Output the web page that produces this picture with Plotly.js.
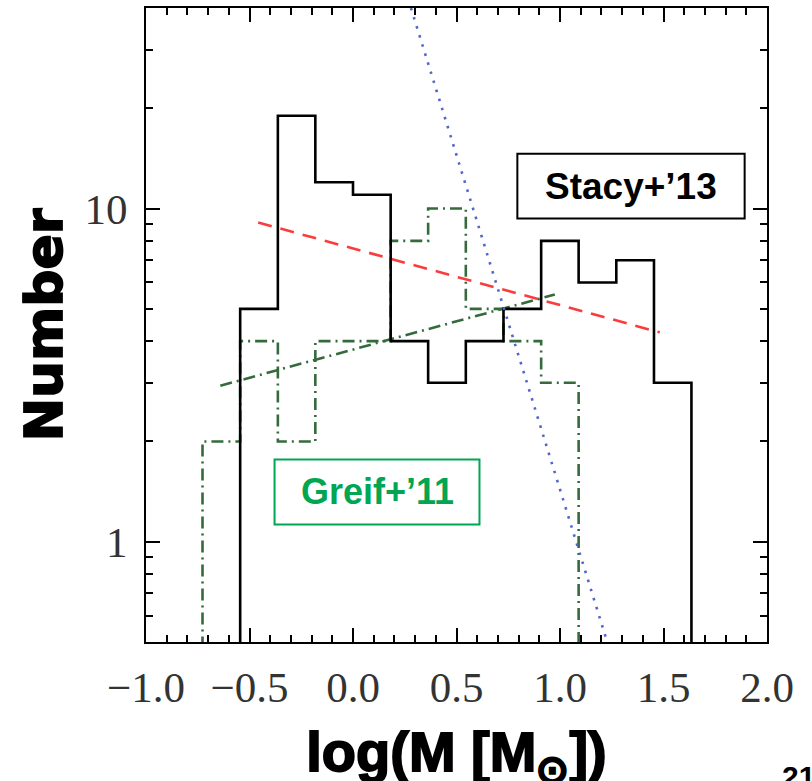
<!DOCTYPE html>
<html>
<head>
<meta charset="utf-8">
<script src="https://cdn.plot.ly/plotly-3.0.1.min.js"></script>
<style>
  html, body { margin: 0; padding: 0; background: #fff; }
  #chart { width: 812px; height: 781px; }
  /* heavy black axis titles */
  .xtitle, .ytitle { stroke: #000; stroke-width: 1.8px; }
</style>
</head>
<body>
<div id="chart"></div>
<script>
// Bin edges in log(M/Msun), shared by both mass functions
const binEdges = [-0.909, -0.727, -0.545, -0.363, -0.182, 0.0, 0.182, 0.363,
                  0.545, 0.727, 0.909, 1.090, 1.272, 1.454, 1.635];

// Number of objects per bin
const stacyCounts = [0, 0, 5, 19, 12, 11, 4, 3, 4, 5, 8, 6, 7, 3];
const greifCounts = [0, 2, 4, 2, 4, 4, 8, 10, 5, 4, 3, 0, 0, 0];

// Power-law fits (end points in log M, N)
const redFitX = [-0.458, 1.482];
const redFitY = [9.08, 4.25];
const greenFitX = [-0.641, 0.975];
const greenFitY = [2.94, 5.52];
const blueFitX = [0.28, 1.228];
const blueFitY = [40, 0.5];

// Axis ticks
const xTickVals = [-1.0, -0.5, 0.0, 0.5, 1.0, 1.5, 2.0];
const xTickText = ['\u22121.0', '\u22120.5', '0.0', '0.5', '1.0', '1.5', '2.0'];
const yTickVals = [1, 10];
const yTickText = ['1', '10'];
const yMinorVals = [0.6, 0.7, 0.8, 0.9, 2, 3, 4, 5, 6, 7, 8, 9, 20, 30];

// Empty bins sit below the log axis floor so the outline drops off the frame
const FLOOR = 0.1;

function stepOutline(edges, counts) {
  const xs = [edges[0]], ys = [FLOOR];
  counts.forEach((c, i) => {
    const v = c > 0 ? c : FLOOR;
    xs.push(edges[i], edges[i + 1]);
    ys.push(v, v);
  });
  xs.push(edges[edges.length - 1]);
  ys.push(FLOOR);
  return { x: xs, y: ys };
}

const greifStep = stepOutline(binEdges, greifCounts);
const stacyStep = stepOutline(binEdges, stacyCounts);

const GREEN_DARK = '#356b3c';

const traces = [
  {
    x: greifStep.x, y: greifStep.y, type: 'scatter', mode: 'lines',
    line: { color: GREEN_DARK, width: 2.6, dash: '12px,5px,2px,5px' },
    hoverinfo: 'skip', name: "Greif+'11"
  },
  {
    x: greenFitX, y: greenFitY, type: 'scatter', mode: 'lines',
    line: { color: GREEN_DARK, width: 2.6, dash: '12px,5px,2px,5px' },
    hoverinfo: 'skip'
  },
  {
    x: redFitX, y: redFitY, type: 'scatter', mode: 'lines',
    line: { color: '#fa3c3c', width: 2.6, dash: '14px,9px' },
    hoverinfo: 'skip'
  },
  {
    x: stacyStep.x, y: stacyStep.y, type: 'scatter', mode: 'lines',
    line: { color: '#000000', width: 2.6 },
    hoverinfo: 'skip', name: "Stacy+'13"
  },
  {
    x: blueFitX, y: blueFitY, type: 'scatter', mode: 'lines',
    line: { color: '#5066c8', width: 2.6, dash: '2.5px,7px' },
    hoverinfo: 'skip'
  }
];

const tickFont = { family: 'Liberation Serif, DejaVu Serif, serif', size: 43, color: '#333' };
const axisCommon = {
  showline: true, linecolor: '#000', linewidth: 2, mirror: 'allticks',
  ticks: 'inside', ticklen: 14, tickwidth: 2, tickcolor: '#000',
  showgrid: false, zeroline: false, automargin: false,
  tickfont: tickFont
};

const layout = {
  width: 812, height: 781,
  margin: { l: 146, r: 45, t: 8, b: 139 },
  paper_bgcolor: '#fff', plot_bgcolor: '#fff',
  showlegend: false,
  xaxis: Object.assign({}, axisCommon, {
    range: [-1, 2],
    tickmode: 'array', tickvals: xTickVals, ticktext: xTickText,
    minor: { ticks: 'inside', ticklen: 7, tickwidth: 2, tickcolor: '#000', dtick: 0.1, tick0: 0, showgrid: false },
    ticklabelstandoff: 6,
    title: {
      text: 'log(M [M<sub>\u2299</sub>])',
      font: { family: 'Liberation Sans, Arial, sans-serif', size: 56, color: '#000', weight: 700 },
      standoff: 52
    }
  }),
  yaxis: Object.assign({}, axisCommon, {
    type: 'log',
    range: [Math.log10(0.5), Math.log10(40)],
    tickmode: 'array', tickvals: yTickVals, ticktext: yTickText,
    minor: { ticks: 'inside', ticklen: 7, tickwidth: 2, tickcolor: '#000', tickmode: 'array', tickvals: yMinorVals, showgrid: false },
    ticklabelstandoff: 8,
    title: {
      text: 'Number',
      font: { family: 'DejaVu Sans, sans-serif', size: 52, color: '#000', weight: 700 },
      standoff: 5
    }
  }),
  shapes: [
    { type: 'rect', xref: 'paper', yref: 'paper', x0: 0.598, x1: 0.964, y0: 0.668, y1: 0.770,
      line: { color: '#000', width: 2 }, fillcolor: 'rgba(0,0,0,0)' },
    { type: 'rect', xref: 'paper', yref: 'paper', x0: 0.207, x1: 0.537, y0: 0.1853, y1: 0.288,
      line: { color: '#00a651', width: 2 }, fillcolor: 'rgba(0,0,0,0)' }
  ],
  annotations: [
    { text: 'Stacy+\u201913', xref: 'paper', yref: 'paper', x: 0.781, y: 0.719,
      xanchor: 'center', yanchor: 'middle', showarrow: false,
      font: { family: 'Liberation Sans, Arial, sans-serif', size: 37, color: '#000', weight: 700 } },
    { text: 'Greif+\u201911', xref: 'paper', yref: 'paper', x: 0.372, y: 0.2367,
      xanchor: 'center', yanchor: 'middle', showarrow: false,
      font: { family: 'Liberation Sans, Arial, sans-serif', size: 36, color: '#00a651', weight: 700 } },
    { text: '21', xref: 'paper', yref: 'paper', x: 1.0214, y: -0.183,
      xanchor: 'left', yanchor: 'top', showarrow: false,
      font: { family: 'Liberation Sans, Arial, sans-serif', size: 30, color: '#000', weight: 700 } }
  ]
};

Plotly.newPlot('chart', traces, layout, { displayModeBar: false, staticPlot: true }).then(gd => {
  // Plotly keeps the x title inside the bottom margin; drop it a little lower toward the page edge
  const t = gd.querySelector('text.xtitle');
  if (t) {
    const y0 = parseFloat(t.getAttribute('y')) || 0;
    t.setAttribute('y', y0 + 10);
  }
});
</script>
</body>
</html>
